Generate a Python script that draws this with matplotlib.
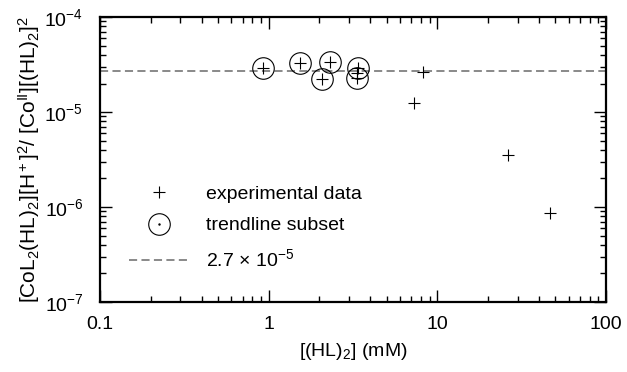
import numpy as np
import matplotlib
matplotlib.use('Agg')
import matplotlib.pyplot as plt
from matplotlib.lines import Line2D

plt.rcParams['font.family'] = ['Liberation Sans', 'DejaVu Sans']
plt.rcParams['mathtext.fontset'] = 'custom'
plt.rcParams['mathtext.rm'] = 'Liberation Sans'
plt.rcParams['mathtext.it'] = 'Liberation Sans'
plt.rcParams['mathtext.default'] = 'regular'

# experimental data
conc = [0.92, 1.53, 2.07, 2.32, 3.37, 3.33, 3.35, 7.23, 8.18, 26.3, 46.5]
ratio = [2.92e-5, 3.26e-5, 2.24e-5, 3.33e-5, 2.88e-5, 2.58e-5, 2.28e-5,
         1.26e-5, 2.66e-5, 3.5e-6, 8.6e-7]

# trendline subset
sub_conc = [0.92, 1.53, 2.07, 2.32, 3.37, 3.33]
sub_ratio = [2.92e-5, 3.26e-5, 2.24e-5, 3.33e-5, 2.88e-5, 2.28e-5]

trend = 2.7e-5

fs = 14
dash = (0, (4.5, 2.4))

fig = plt.figure(figsize=(6.27, 3.72), dpi=100)
ax = fig.add_axes([0.1595, 0.188, 0.807, 0.766])

ax.axhline(trend, color='#808080', ls=dash, lw=1.3, zorder=1)
ax.plot(conc, ratio, ls='none', marker='+', ms=8.5, mew=0.8, color='black')
ax.plot(sub_conc, sub_ratio, ls='none', marker='o', ms=15.5, mew=0.8,
        mfc='none', mec='black')

ax.set_xscale('log')
ax.set_yscale('log')
ax.set_xlim(0.1, 100)
ax.set_ylim(1e-7, 1e-4)
ax.set_xticks([0.1, 1, 10, 100])
ax.set_xticklabels(['0.1', '1', '10', '100'])

ax.tick_params(which='both', direction='in', top=True, right=True,
               labelsize=fs, width=1)
ax.tick_params(which='major', length=8.5)
ax.tick_params(which='minor', length=4.5)
ax.tick_params(axis='x', pad=10)
ax.tick_params(axis='y', pad=12)
for s in ax.spines.values():
    s.set_linewidth(1.6)

ax.set_xlabel('[(HL)$_2$] (mM)', fontsize=fs, labelpad=6)
ax.set_ylabel('[CoL$_2$(HL)$_2$][H$^+$]$^2$/ [Co$^{II}$][(HL)$_2$]$^2$',
              fontsize=15, labelpad=2)

handles = [
    Line2D([], [], ls='none', marker='+', ms=8.5, mew=0.8, color='black'),
    (Line2D([], [], ls='none', marker='o', ms=15.5, mew=0.8, mfc='none', mec='black'),
     Line2D([], [], ls='none', marker='.', ms=1.5, color='black')),
    Line2D([], [], color='#808080', ls=dash, lw=1.3),
]
labels = ['experimental data', 'trendline subset', '2.7 $\\times$ 10$^{-5}$']
ax.legend(handles, labels, loc='upper left', bbox_to_anchor=(0.058, 0.41),
          frameon=False, fontsize=fs, handlelength=3.1, handletextpad=0.85,
          labelspacing=0.72, borderpad=0, borderaxespad=0)

fig.savefig('out.png', dpi=100)
